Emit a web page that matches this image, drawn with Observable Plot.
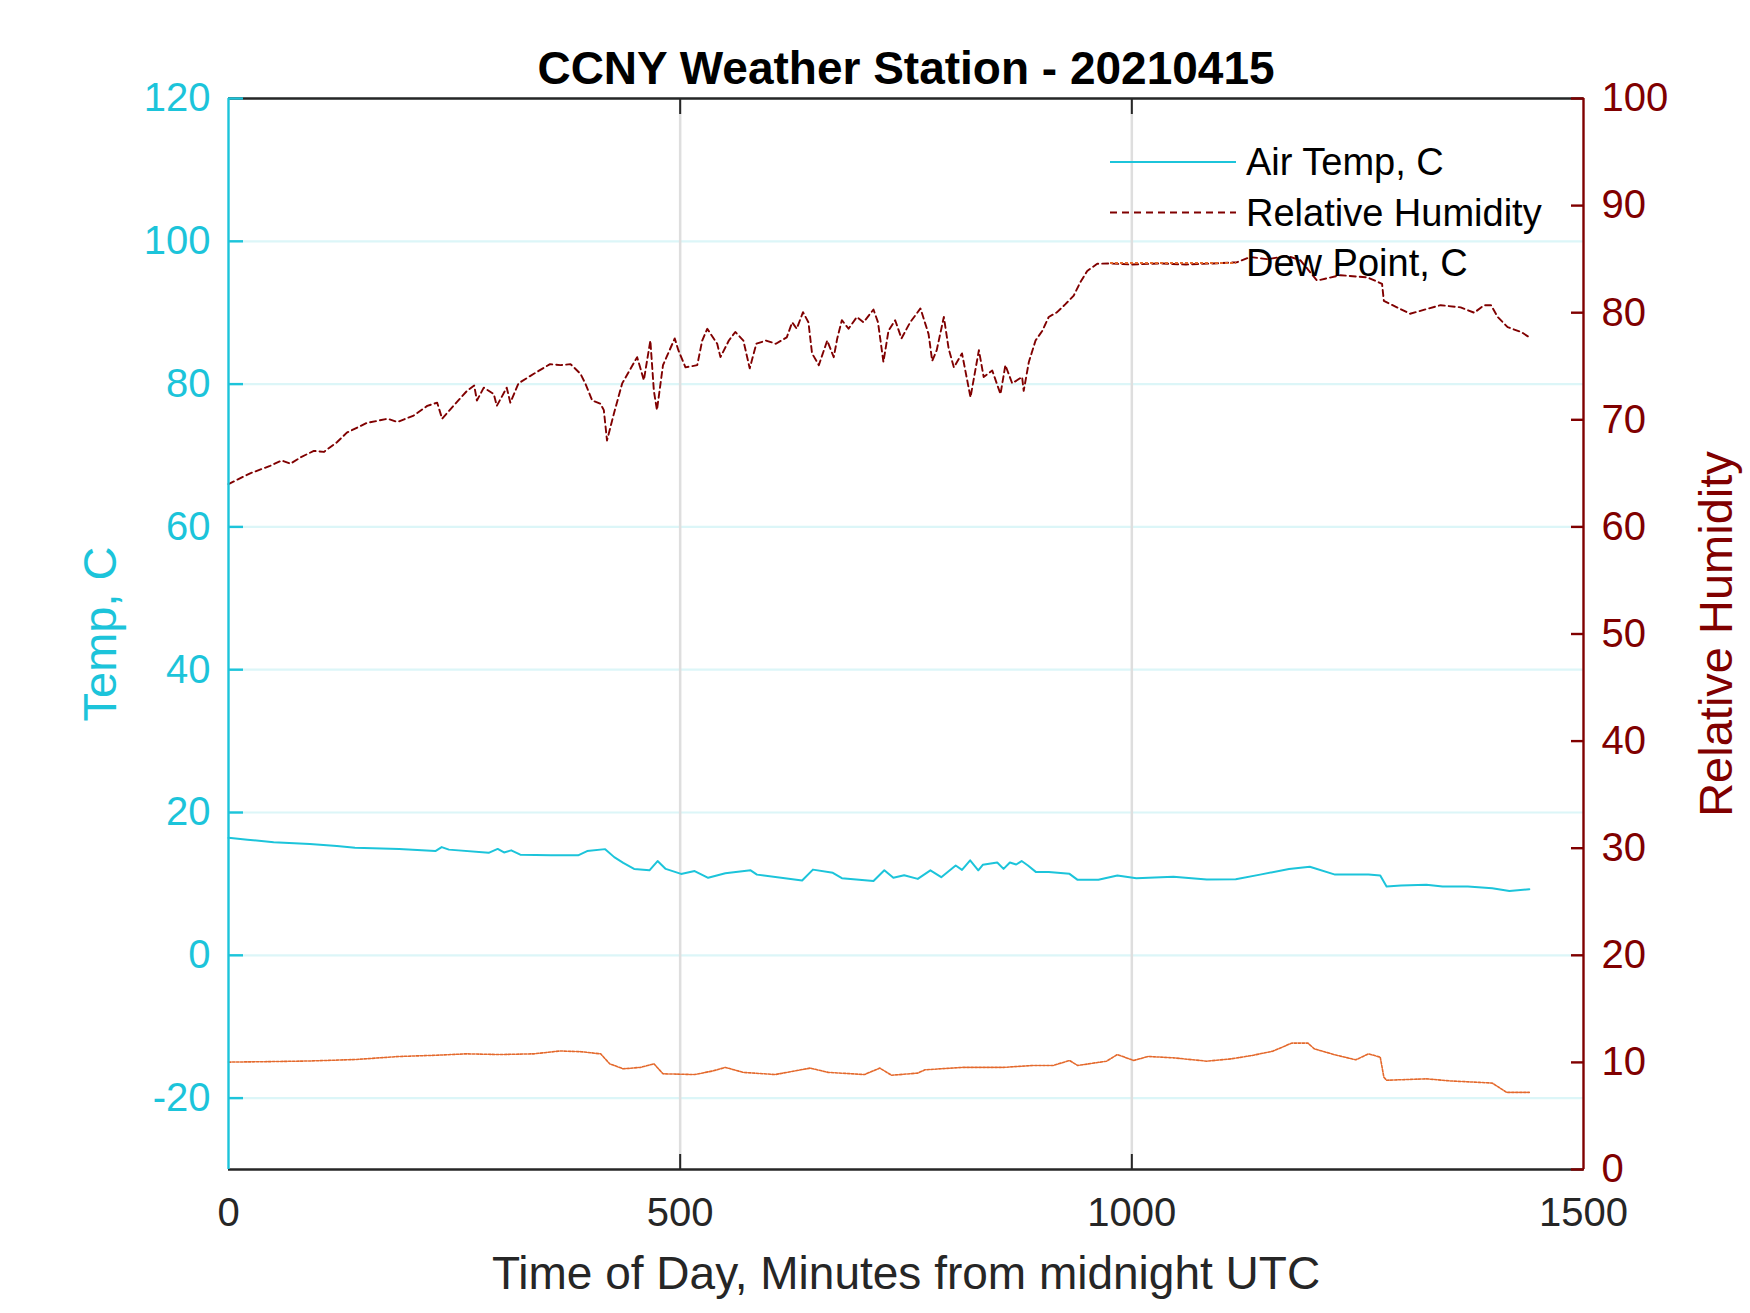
<!DOCTYPE html>
<html>
<head>
<meta charset="utf-8">
<script src="https://cdn.jsdelivr.net/npm/d3@7"></script>
<script src="https://cdn.jsdelivr.net/npm/@observablehq/plot@0.6"></script>
<style>
  html, body { margin: 0; padding: 0; background: #fff; }
  #chart svg { display: block; }
</style>
</head>
<body>
<div id="chart"></div>
<script>
// ---- data ----
const chartTitle = "CCNY Weather Station - 20210415";
const xLabel = "Time of Day, Minutes from midnight UTC";
const yLabelLeft = "Temp, C";
const yLabelRight = "Relative Humidity";
const legendLabels = ["Air Temp, C", "Relative Humidity", "Dew Point, C"];

const xTicks = [0, 500, 1000, 1500];
const tempTicks = [-20, 0, 20, 40, 60, 80, 100, 120];
const rhTicks = [0, 10, 20, 30, 40, 50, 60, 70, 80, 90, 100];

const tempMinutes = [0,21,50,90,120,140,189,229,236,244,288,298,305,313,323,357,387,397,417,427,437,449,466,475,484,501,516,531,550,578,585,635,647,669,679,714,726,736,748,763,777,789,805,812,821,830,835,851,858,865,872,878,885,894,908,931,940,963,984,1005,1046,1083,1115,1142,1174,1197,1225,1262,1275,1282,1298,1326,1344,1372,1399,1418,1440];
const tempValues = [16.45,16.2,15.85,15.6,15.3,15.05,14.9,14.6,15.15,14.8,14.35,14.9,14.4,14.7,14.1,14.0,14.0,14.6,14.87,13.75,12.95,12.1,11.9,13.2,12.1,11.4,11.8,10.85,11.5,11.9,11.3,10.48,12.0,11.55,10.8,10.4,11.9,10.85,11.2,10.7,11.9,10.94,12.58,11.97,13.3,11.9,12.67,13.0,12.1,13.0,12.72,13.2,12.58,11.65,11.65,11.41,10.57,10.57,11.18,10.8,11.0,10.6,10.66,11.3,12.1,12.4,11.3,11.3,11.18,9.64,9.78,9.87,9.64,9.64,9.4,9.0,9.26];

const dewMinutes = [0,40,90,140,189,230,263,300,338,367,390,412,422,437,456,471,481,516,536,550,570,605,644,664,704,721,734,763,771,812,858,890,913,931,940,972,984,1002,1018,1046,1083,1110,1133,1156,1177,1195,1202,1225,1248,1262,1275,1279,1282,1326,1353,1385,1399,1415,1440];
const dewValues = [-14.96,-14.9,-14.8,-14.6,-14.17,-14.0,-13.8,-13.9,-13.8,-13.4,-13.5,-13.8,-15.2,-15.9,-15.7,-15.2,-16.6,-16.7,-16.2,-15.7,-16.4,-16.7,-15.8,-16.4,-16.7,-15.8,-16.8,-16.5,-16.04,-15.7,-15.7,-15.43,-15.43,-14.73,-15.43,-14.83,-13.9,-14.73,-14.17,-14.36,-14.83,-14.5,-14.03,-13.43,-12.3,-12.3,-13.1,-13.94,-14.64,-13.8,-14.27,-17.07,-17.5,-17.3,-17.6,-17.8,-17.9,-19.2,-19.2];

const rhMinutes = [0,24,46,59,68.6,80,94.5,105.5,120,131,153,176,187,205,220,231,236.5,249,264,272,275,282.6,293.7,297,308,312,321,338,356,367.5,378.6,389.6,395,402.6,411.8,415.5,419,426.6,435.8,452.4,459.8,467,470.9,474.3,481,494,498,505.9,518.9,524.4,530,541,544.6,553.9,561,570,577,584.3,595,606,618,624,629,636,642,646,653.5,662.8,670,673.9,679,686.4,695.6,703,714,719,725,730.6,738,745,754.6,766,775,779,784,791.9,797.3,803,812,821.4,830.7,836,845.5,854.6,860,867.6,878.5,880.3,886,893.4,900.8,908,917.3,926.5,935.7,943,950.6,961.7,975,1000,1030,1060,1090,1116,1131,1150,1172,1186.5,1205,1231,1260.6,1277,1279,1297,1308,1327,1341.8,1364,1379,1390,1397.6,1405,1416,1431,1440];
const rhValues = [64.0,65.0,65.7,66.2,65.9,66.5,67.1,67.0,67.9,68.8,69.7,70.1,69.8,70.4,71.3,71.6,70.1,71.3,72.7,73.2,71.8,73.0,72.4,71.3,73.0,71.6,73.4,74.3,75.2,75.1,75.2,74.3,73.4,71.8,71.5,70.9,68.07,70.56,73.4,75.85,73.7,77.4,72.7,70.9,75.1,77.6,76.5,74.9,75.1,77.4,78.5,77.1,75.85,77.4,78.2,77.4,74.8,77.1,77.4,77.1,77.7,79.1,78.5,80.05,79.1,76.2,75.1,77.4,75.85,77.6,79.3,78.5,79.6,79.1,80.3,79.1,75.4,78.3,79.3,77.6,79.1,80.4,78.0,75.5,76.5,79.6,76.6,74.9,76.2,72.1,76.5,74.0,74.6,72.4,75.1,73.4,74.0,72.7,75.4,77.4,78.3,79.6,80.05,80.8,81.6,82.85,83.9,84.57,84.6,84.5,84.6,84.5,84.6,84.7,85.2,85.0,85.3,84.9,83.0,83.5,83.3,82.7,81.1,80.36,79.9,80.36,80.7,80.5,80.0,80.7,80.7,79.6,78.65,78.2,77.7];

// ---- styling ----
const CYAN = "#1cc4da";
const MAROON = "#800000";
const ORANGE = "#e4692c";
const DARK = "#262626";
const FONT = "'Liberation Sans', Arial, Helvetica, sans-serif";

const temp = tempMinutes.map((m, i) => ({m, v: tempValues[i]}));
const dew = dewMinutes.map((m, i) => ({m, v: dewValues[i]}));
const rh = rhMinutes.map((m, i) => ({m, v: rhValues[i]}));

// RH is drawn on the temperature y scale: RH 0..100 maps to -30..120
const rhToT = r => -30 + 1.5 * r;
const tToRh = t => (t + 30) / 1.5;
const plain = d => String(d);
const inner = xTicks.filter(t => t > 0 && t < 1500);

const plot = Plot.plot({
  width: 1750,
  height: 1313,
  marginLeft: 228,
  marginRight: 167,
  marginTop: 98,
  marginBottom: 144,
  style: {fontFamily: FONT, fontSize: "40px", background: "#fff", color: DARK},
  x: {domain: [0, 1500]},
  y: {domain: [-30, 120]},
  marks: [
    // grid
    Plot.ruleY(tempTicks, {stroke: "#dcf6f8", strokeWidth: 2.2}),
    Plot.ruleX(inner, {stroke: "#dedede", strokeWidth: 2.5}),
    // data
    Plot.line(dew, {x: "m", y: "v", stroke: ORANGE, strokeWidth: 1.6, strokeDasharray: "2.5,1.5"}),
    Plot.line(rh, {x: "m", y: d => rhToT(d.v), stroke: MAROON, strokeWidth: 1.9, strokeDasharray: "6,4"}),
    Plot.line(temp, {x: "m", y: "v", stroke: CYAN, strokeWidth: 2}),
    // box
    Plot.ruleY([-30], {stroke: DARK, strokeWidth: 2.4}),
    Plot.ruleY([120], {stroke: DARK, strokeWidth: 2.4}),
    Plot.ruleX([0], {stroke: CYAN, strokeWidth: 2.4}),
    Plot.ruleX([1500], {stroke: MAROON, strokeWidth: 2.4}),
    // x axis labels and inward ticks (bottom + top)
    Plot.axisX({ticks: xTicks, tickFormat: plain, tickSize: 0, tickPadding: 28, color: DARK, label: null, fontSize: 40}),
    Plot.axisX({ticks: inner, tickSize: 15, dy: -15, tickFormat: () => "", color: DARK, strokeWidth: 2, label: null}),
    Plot.axisX({anchor: "top", ticks: inner, tickSize: 15, dy: 15, tickFormat: () => "", color: DARK, strokeWidth: 2, label: null}),
    // left axis (temperature)
    Plot.axisY({ticks: tempTicks, tickFormat: plain, tickSize: 0, tickPadding: 18, color: CYAN, label: null, fontSize: 40}),
    Plot.axisY({ticks: tempTicks, tickSize: 15, dx: 15, tickFormat: () => "", color: CYAN, strokeWidth: 2.4, label: null}),
    // right axis (relative humidity)
    Plot.axisY({anchor: "right", ticks: rhTicks.map(rhToT), tickFormat: t => String(Math.round(tToRh(t))), tickSize: 0, tickPadding: 18, color: MAROON, label: null, fontSize: 40}),
    Plot.axisY({anchor: "right", ticks: rhTicks.map(rhToT), tickSize: 13, dx: -13, tickFormat: () => "", color: MAROON, strokeWidth: 2.4, label: null}),
    // titles
    Plot.text([chartTitle], {text: d => d, frameAnchor: "top", lineAnchor: "middle", dy: -29, fontWeight: "bold", fontSize: 46, fill: "#000"}),
    Plot.text([xLabel], {text: d => d, frameAnchor: "bottom", lineAnchor: "middle", dy: 105, fontSize: 46, fill: DARK}),
    Plot.text([yLabelLeft], {text: d => d, frameAnchor: "left", textAnchor: "middle", lineAnchor: "middle", dx: -128, rotate: -90, fontSize: 47, fill: CYAN}),
    Plot.text([yLabelRight], {text: d => d, frameAnchor: "right", textAnchor: "middle", lineAnchor: "middle", dx: 133, rotate: -90, fontSize: 47, fill: MAROON})
  ]
});

document.getElementById("chart").appendChild(plot);

// legend (no box), drawn on top of the plot area
const svg = d3.select(plot);
const lg = svg.append("g").attr("font-family", FONT).attr("font-size", 38).attr("text-anchor", "start");
const legendStyles = [
  {stroke: CYAN, dash: null, width: 2.2},
  {stroke: MAROON, dash: "7,5", width: 2.2},
  {stroke: ORANGE, dash: "3,2", width: 2}
];
legendLabels.forEach((label, i) => {
  const yy = 162 + i * 50.5;
  const s = legendStyles[i];
  const ln = lg.append("line").attr("x1", 1110).attr("x2", 1236).attr("y1", yy).attr("y2", yy)
    .attr("stroke", s.stroke).attr("stroke-width", s.width);
  if (s.dash) ln.attr("stroke-dasharray", s.dash);
  lg.append("text").attr("x", 1246).attr("y", yy).attr("dy", "0.35em")
    .attr("text-anchor", "start").attr("fill", "#000").text(label);
});
</script>
</body>
</html>
